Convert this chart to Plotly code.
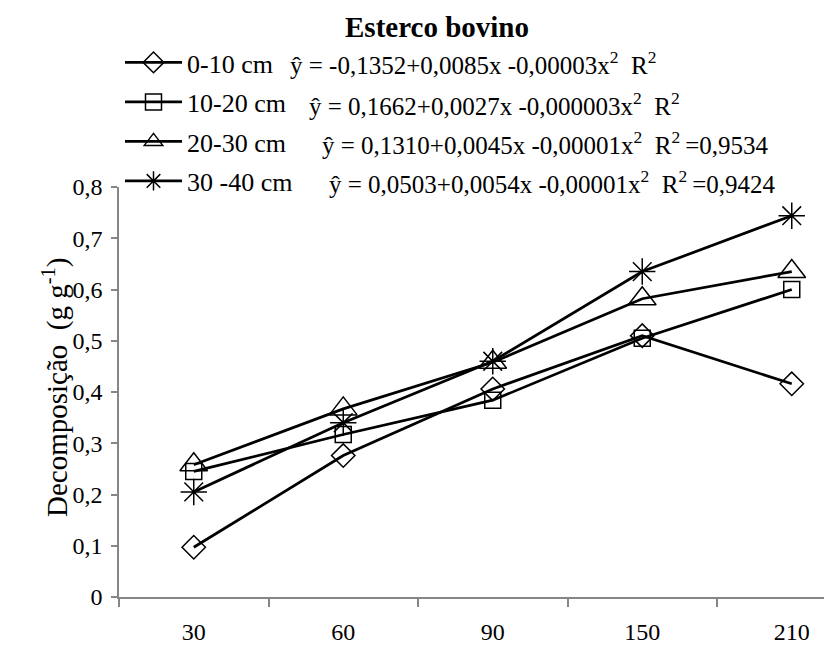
import plotly.graph_objects as go

categories = ["30", "60", "90", "150", "210"]
series_names = ["0-10 cm", "10-20 cm", "20-30 cm", "30 -40 cm"]
v_0_10 = [0.097, 0.276, 0.406, 0.510, 0.416]
v_10_20 = [0.245, 0.317, 0.384, 0.505, 0.600]
v_20_30 = [0.258, 0.367, 0.458, 0.582, 0.635]
v_30_40 = [0.205, 0.340, 0.460, 0.635, 0.744]
equations = [
    "ŷ = -0,1352+0,0085x -0,00003x<sup>2</sup>\u00a0\u00a0R<sup>2</sup>",
    "ŷ = 0,1662+0,0027x -0,000003x<sup>2</sup>\u00a0\u00a0R<sup>2</sup>",
    "ŷ = 0,1310+0,0045x -0,00001x<sup>2</sup>\u00a0\u00a0R<sup>2</sup>\u2009=0,9534",
    "ŷ = 0,0503+0,0054x -0,00001x<sup>2</sup>\u00a0\u00a0R<sup>2</sup>\u2009=0,9424",
]

values = [v_0_10, v_10_20, v_20_30, v_30_40]
symbols = ["diamond-open", "square-open", "triangle-up-open", "asterisk-open"]
sizes = [18, 16, 24, 22]

FONT = "Liberation Serif"
OFF = 8  # page body margin offset
W, H = 832 - OFF, 647 - OFF
L = 119 - OFF
T = 187 - OFF
B = H - (597 - OFF)
R = 0
CAT_PX = 149.5
plot_w = W - L - R
plot_h = H - T - B

eq_x_img = [288, 307, 320, 327]
row_y_img = [63, 104, 143, 182]

fig = go.Figure()
for i, (name, vals) in enumerate(zip(series_names, values)):
    fig.add_trace(go.Scatter(
        x=categories, y=vals, name=name, mode="lines+markers",
        legendgroup=f"g{i}",
        line=dict(color="black", width=2.75),
        marker=dict(symbol=symbols[i], size=sizes[i], color="black",
                    line=dict(color="black", width=1.5)),
    ))

for eq, xi, yi in zip(equations, eq_x_img, row_y_img):
    fig.add_annotation(
        text=eq, xref="paper", yref="paper",
        x=(xi - OFF - L) / plot_w, y=(H - B - (yi - OFF)) / plot_h,
        xanchor="left", yanchor="middle", showarrow=False,
        font=dict(family=FONT, size=25, color="black"),
    )

# y-axis title
fig.add_annotation(
    text="Decomposição\u00a0\u00a0(g g<sup>-1</sup>)", textangle=-90,
    xref="paper", yref="paper",
    x=(55 - OFF - L) / plot_w, y=(H - B - (388 - OFF)) / plot_h,
    xanchor="center", yanchor="middle", showarrow=False,
    font=dict(family=FONT, size=29, color="black"),
)

fig.update_layout(
    width=W, height=H,
    margin=dict(l=L, r=R, t=T, b=B, autoexpand=False),
    paper_bgcolor="white", plot_bgcolor="white",
    separators=",.",
    font=dict(family=FONT, color="black"),
    title=dict(text="<b>Esterco bovino</b>", x=(437 - OFF) / W, xanchor="center",
               xref="container", yref="container", y=1 - (27 - OFF) / H, yanchor="middle",
               font=dict(family=FONT, size=29, color="black")),
    legend=dict(x=(120 - OFF) / W, xref="container", xanchor="left",
                y=1 - (39 - OFF) / H, yref="container", yanchor="top",
                font=dict(family=FONT, size=26, color="black"),
                itemwidth=57, tracegroupgap=2.7, bgcolor="rgba(0,0,0,0)"),
    xaxis=dict(
        type="category", range=[-0.5, -0.5 + plot_w / CAT_PX], showgrid=False, zeroline=False,
        showline=True, linecolor="#868686", linewidth=1.5, automargin=False,
        ticks="outside", tickson="boundaries", ticklen=8, tickcolor="#868686",
        tickwidth=1.5, ticklabelstandoff=12,
        tickfont=dict(family=FONT, size=24, color="black"),
    ),
    yaxis=dict(
        range=[0, 0.8], dtick=0.1, showgrid=False, zeroline=False,
        showline=True, linecolor="#868686", linewidth=1.5, automargin=False,
        ticks="outside", ticklen=6, tickcolor="#868686", tickwidth=1.5,
        ticklabelstandoff=4,
        tickfont=dict(family=FONT, size=24, color="black"),
    ),
)

fig.write_html("out.html")
